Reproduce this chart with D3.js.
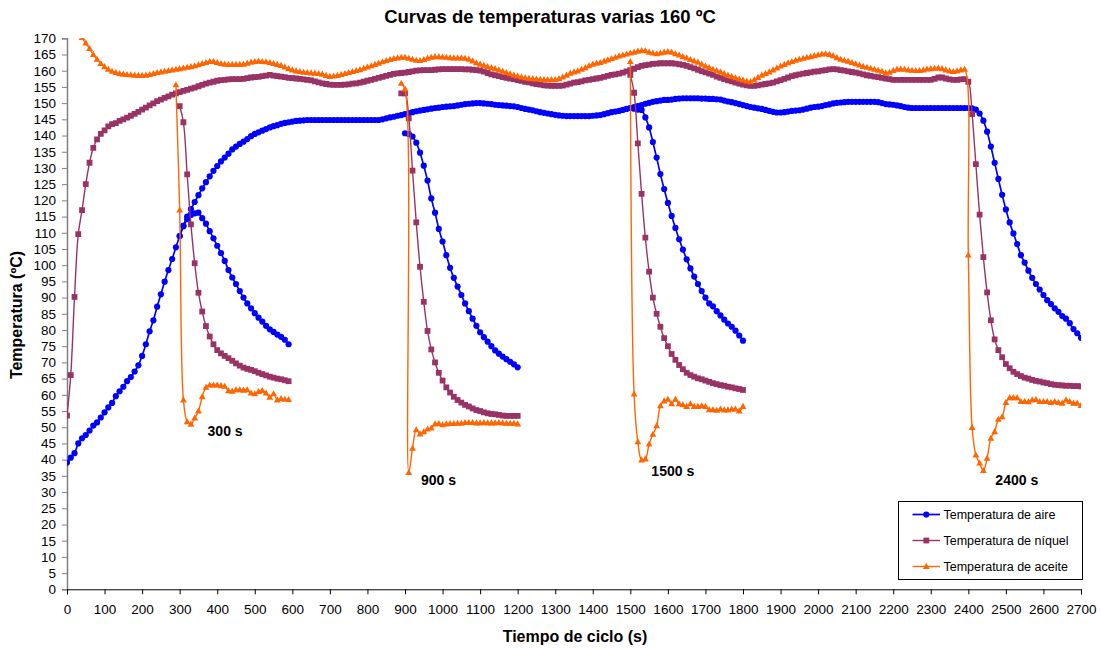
<!DOCTYPE html>
<html><head><meta charset="utf-8">
<script src="https://cdn.jsdelivr.net/npm/d3@7"></script>
<style>body{margin:0;background:#fff}svg{display:block;font-family:"Liberation Sans",Arial,sans-serif}</style>
</head><body><svg id="c" width="1101" height="648"></svg>
<script>
// ---- DATA (10 s sampling) ----
const STEP = 10;
const xTicks = d3.range(0, 2701, 100);
const yTicks = d3.range(0, 171, 5);
const seriesNames = ["Temperatura de aire", "Temperatura de níquel", "Temperatura de aceite"];
const pointLabels = ["300 s", "900 s", "1500 s", "2400 s"];

// air, long run 0..2700 s
const airMain = [39.1,40.6,42,45,46.6,47.6,49,50.5,51.5,53,54.6,56.1,57.5,59.6,61.1,62.5,64.2,65.5,67.2,69.1,
72,75.6,79.6,83,87.2,91,94.9,98.5,101.9,105.5,109,112.2,115,117.3,119.5,121.6,123.7,125.6,127.4,129.1,
130.6,132,133.2,134.4,135.7,136.6,137.4,138.1,138.9,139.8,140.5,141,141.5,142,142.5,142.9,143.2,143.6,143.9,144.1,
144.3,144.5,144.6,144.7,144.8,144.8,144.8,144.8,144.8,144.8,144.8,144.8,144.8,144.8,144.8,144.8,144.8,144.8,144.8,144.8,
144.8,144.8,144.8,144.8,145,145.3,145.6,145.8,146.1,146.3,146.6,146.9,147.2,147.5,147.7,147.9,148.1,148.3,148.5,148.6,
148.8,148.9,149,149.1,149.3,149.5,149.7,149.8,149.9,150,150,149.9,149.8,149.7,149.5,149.4,149.3,149.2,149.1,149,
148.8,148.5,148.2,148,147.8,147.5,147.2,147,146.8,146.6,146.4,146.2,146.1,146,146,146,146,146,146,146,
146.1,146.2,146.3,146.6,146.9,147.2,147.4,147.6,147.9,148.2,148.5,148.8,149.1,149.4,149.8,150.1,150.4,150.6,150.8,151,
151,151.1,151.3,151.4,151.5,151.5,151.5,151.5,151.5,151.4,151.4,151.3,151.3,151.2,151.1,150.8,150.5,150.3,150,149.7,
149.4,149.1,148.8,148.6,148.4,148.2,147.9,147.6,147.3,147.1,147.1,147.2,147.4,147.6,147.7,147.8,148,148.3,148.6,148.8,
148.9,149.1,149.4,149.6,149.9,150.1,150.2,150.3,150.4,150.4,150.4,150.4,150.4,150.4,150.4,150.4,150.3,150,149.7,149.6,
149.5,149.3,149.1,148.8,148.6,148.5,148.5,148.5,148.5,148.5,148.5,148.5,148.5,148.5,148.5,148.5,148.5,148.5,148.5,148.5,
148.5,148.4,148,146.8,144.6,141.2,136.6,131.6,126.6,121.7,117.2,113.2,109.8,106.5,103.1,100.8,98.3,96.1,94.2,92.5,
90.8,89.2,88,86.7,85.6,84.3,83.5,82.1,80.3,79,77.6];
const air300 = [109,112,114.2,115.5,116,116.2,114.5,112.8,110.5,108.3,106,103.7,101.3,98.5,96.2,94.2,92,90,88.2,86.7,
85.2,83.8,82.6,81.3,80.2,79.4,78.6,77.9,77,75.6];
const air900 = [140.7,140.5,139.7,137.8,134.7,130.7,126.1,120.6,116.2,111.2,107.3,103.1,99.2,96.1,93.4,90.8,88.2,85.8,83.5,81.3,
79.3,77.8,76.4,75,73.7,72.7,71.8,71,70.2,69.4,68.5];
const air1500 = [148.5,148.3,148,147.9,145.6,142.5,138,133.2,128.1,123.5,119.2,115.2,111.5,108,104.8,101.8,99,96.5,94.2,92,
90,88.2,87.3,85.8,84.5,83.2,82,81,79.8,78.3,76.7];

// nickel
const niMain = [53.6,66.1,90.2,109.6,117,125,131.6,136.2,138.8,140.5,141.6,142.8,143.5,143.8,144.5,145,145.5,146.1,146.7,147.3,
148,148.6,149.3,149.9,150.6,151.1,151.6,152.1,152.6,153,153.4,153.8,154.1,154.5,154.8,155.2,155.6,156,156.3,156.6,
156.9,157.1,157.2,157.3,157.4,157.4,157.4,157.5,157.7,157.9,158,158.1,158.3,158.5,158.7,158.5,158.3,158.2,158,157.8,
157.7,157.6,157.5,157.3,157.2,157,156.7,156.4,156.1,155.9,155.7,155.6,155.6,155.6,155.7,155.8,156,156.1,156.3,156.6,
156.9,157.2,157.5,157.8,158.1,158.4,158.7,159,159.2,159.3,159.4,159.6,159.8,160,160.1,160.2,160.2,160.2,160.3,160.4,
160.5,160.5,160.5,160.5,160.5,160.5,160.4,160.4,160.3,160.2,160,159.7,159.3,158.9,158.6,158.3,158,157.8,157.6,157.4,
157.1,156.9,156.6,156.4,156.1,155.9,155.7,155.5,155.4,155.3,155.3,155.3,155.4,155.7,156,156.3,156.5,156.7,157,157.2,
157.4,157.6,157.8,158.1,158.4,158.7,158.9,159.1,159.4,159.8,160.2,160.6,161.1,161.5,161.7,161.9,162.1,162.2,162.3,162.3,
162.3,162.3,162.2,162,161.8,161.5,161.1,160.7,160.3,159.9,159.5,159.1,158.7,158.2,157.8,157.4,157,156.7,156.3,156,
155.7,155.5,155.3,155.3,155.5,155.7,155.9,156.1,156.3,156.7,157.1,157.5,157.9,158.3,158.6,158.9,159.1,159.3,159.5,159.7,
159.8,160,160.2,160.4,160.5,160.4,160.2,160,159.8,159.6,159.4,159.2,158.9,158.6,158.4,158.2,158,157.8,157.6,157.4,
157.2,157.2,157.2,157.2,157.2,157.2,157.2,157.2,157.2,157.2,157.2,157.5,157.9,157.9,157.6,157.3,157.2,157.2,157.3,157.4,
156.6,146.6,131.2,115.6,102.5,91.6,83,77.1,73.8,71.6,69.5,68.2,67.1,66.4,65.8,65.3,65,64.6,64.3,64.1,
63.8,63.6,63.3,63.1,63,62.9,62.8,62.8,62.7,62.7,62.6];
const ni300 = [149.1,144.1,128,112.6,100.6,91.5,85.7,81.2,78,75.6,73.8,72.8,72,71.3,70.5,69.7,69,68.4,68,67.7,
67.3,66.8,66.4,66,65.6,65.3,65,64.8,64.5,64.2];
const ni900 = [153,153,145.3,129.2,113.2,99.5,88.7,79.7,74,70,66.8,64.4,62.3,60.7,59.4,58.4,57.6,56.9,56.4,55.8,
55.3,55,54.6,54.3,54.1,54,53.8,53.6,53.5,53.5,53.5,53.5];
const ni1500 = [158.7,153.2,137.6,122,108.5,98,90,85,81,77.5,75,72.6,70.8,69.2,67.9,66.8,66.1,65.6,65.1,64.8,
64.4,64,63.6,63.3,63,62.8,62.5,62.3,62,61.8,61.5];

// oil
const oilMain = [178,176,174,172,170.2,168.5,166.8,165,163.5,162.2,161.2,160.4,159.8,159.4,159.1,158.9,158.8,158.7,158.6,158.5,
158.5,158.6,158.8,159.1,159.4,159.6,159.8,160,160.2,160.4,160.6,160.8,161,161.2,161.5,161.8,162.2,162.5,162.8,162.8,
162.5,162.2,162,161.9,161.9,161.9,161.9,162,162.3,162.6,162.8,162.9,162.8,162.7,162.5,162.2,161.9,161.6,161.1,160.6,
160.2,159.9,159.7,159.5,159.4,159.3,159.2,159.1,158.9,158.5,158.2,158.3,158.5,158.8,159.1,159.4,159.7,160,160.3,160.7,
161.1,161.5,161.9,162.3,162.7,163.1,163.4,163.7,163.9,164.1,164.1,163.8,163.5,163.2,163.1,163.4,163.8,164.1,164.3,164.3,
164.2,164.1,164,163.9,163.9,163.9,163.8,163.5,163,162.4,162,161.6,161.2,160.9,160.6,160.2,159.8,159.4,159,158.6,
158.3,158,157.8,157.6,157.5,157.4,157.3,157.2,157.2,157.2,157.2,157.5,158,158.6,159.2,159.6,159.9,160.4,160.9,161.5,
162,162.3,162.5,162.9,163.3,163.7,164.1,164.5,164.8,165.1,165.4,165.7,166,166.2,166.1,165.7,165.4,165.2,165.4,165.7,
165.9,165.7,165.2,164.8,164.3,163.9,163.4,163,162.6,162,161.4,160.9,160.4,160,159.6,159.1,158.6,158.2,157.8,157.4,
157.1,156.8,156.6,157.2,157.9,158.6,159.1,159.6,160.2,160.8,161.4,161.9,162.4,162.8,163.2,163.5,163.8,164.1,164.3,164.6,
164.9,165.1,165.2,165,164.6,164,163.5,163.2,162.9,162.5,162.1,161.7,161.3,161,160.7,160.4,160.1,159.8,159.3,159.5,
160,160.4,160.5,160.4,160.2,160.1,160,160,160.2,160.5,160.6,160.7,160.8,160.6,160.2,159.9,159.7,159.9,160.2,160.4,
103.1,49.9,41.4,38.9,36.6,40.4,46.6,48.6,52.4,53.2,57.6,59.1,59.1,59.1,57.9,57.9,57.8,58.4,58.5,57.9,
57.9,57.9,57.6,57.9,57.6,57.4,58.4,57.9,57.4,57.4,56.7];
const oil300 = [155.6,117,58.4,51.7,50.9,52.8,55,59.4,62.3,63,63,63,62.8,62.6,61.2,61.1,61.5,61.5,61.4,61.5,
60.5,60.3,61,61.3,60.5,59.2,60.3,58.4,58.8,58.6,58.5];
const oil900 = [156.1,154.3,36,43.5,49.2,47.9,48.6,49.4,49.7,51,51.1,50.7,51,51.1,51.1,51.2,51.2,51.4,51.4,51.4,
51.3,51.3,51.4,51.3,51.3,51.3,51.4,51.3,51.2,51.2,51.2,51];
const oil1500 = [162.8,60.2,45.5,39.9,40.2,44.8,47.8,50.4,56.6,58.1,58.6,57.2,58.6,57.2,56.9,56.4,57.2,56.4,56.4,56.6,
56.4,55.4,55.4,55.2,55.6,55.3,55.3,55.6,55.6,55,56.4];

// segment start times (s)
const airStarts = [0, 300, 900, 1500];
const niStarts = [0, 300, 890, 1500];
const oilStarts = [0, 290, 890, 1500];
// label anchor (time s, temperature) for each test
const labelTimes = [421, 989, 1613, 2529];
const labelTemps = [47.3, 32.2, 35, 32.2];

// ---- CHART ----
const svg = d3.select("#c");
const x = d3.scaleLinear().domain([0, 2700]).range([67, 1081]);
const y = d3.scaleLinear().domain([0, 170]).range([589.3, 38.3]);

svg.append("defs").append("clipPath").attr("id", "plot")
  .append("rect").attr("x", 67).attr("y", 38.3).attr("width", 1014).attr("height", 551);

const series = [
  {name: seriesNames[0], color: "#0000FF", marker: "circle", segs: [airMain, air300, air900, air1500].map((v, i) => ({start: airStarts[i], values: v}))},
  {name: seriesNames[1], color: "#993366", marker: "square", segs: [niMain, ni300, ni900, ni1500].map((v, i) => ({start: niStarts[i], values: v}))},
  {name: seriesNames[2], color: "#FF6600", marker: "triangle", segs: [oilMain, oil300, oil900, oil1500].map((v, i) => ({start: oilStarts[i], values: v}))}
];

function markerPath(type) {
  if (type === "circle") return "M3.1,0A3.1,3.1 0 1,1 -3.1,0A3.1,3.1 0 1,1 3.1,0Z";
  if (type === "square") return "M-2.9,-2.9H2.9V2.9H-2.9Z";
  return "M0,-3.7L3.4,2.4H-3.4Z";
}

// axes
const yAxis = svg.append("g").attr("transform", "translate(67,0)")
  .call(d3.axisLeft(y).tickValues(yTicks).tickSize(5).tickPadding(6).tickFormat(d3.format("d")));
yAxis.select(".domain").attr("stroke", "#808080").attr("stroke-width", 1.5);
yAxis.selectAll(".tick line").attr("stroke", "#808080");
yAxis.selectAll("text").attr("font-size", 13.5).attr("fill", "#000").attr("font-family", '"Liberation Sans",Arial,sans-serif');

const xAxis = svg.append("g").attr("transform", "translate(0,589.3)")
  .call(d3.axisBottom(x).tickValues(xTicks).tickSize(5).tickPadding(10).tickFormat(d3.format("d")));
xAxis.select(".domain").attr("stroke", "#000").attr("stroke-width", 1);
xAxis.selectAll(".tick line").attr("stroke", "#000");
xAxis.selectAll("text").attr("font-size", 13.5).attr("fill", "#000").attr("font-family", '"Liberation Sans",Arial,sans-serif');

// series
const plot = svg.append("g").attr("clip-path", "url(#plot)");
const line = d3.line().x(d => x(d[0])).y(d => y(d[1])).curve(d3.curveCatmullRom.alpha(0.5));
series.forEach(s => {
  const g = plot.append("g");
  s.segs.forEach(seg => {
    const pts = seg.values.map((v, i) => [seg.start + i * STEP, v]);
    g.append("path").datum(pts).attr("d", line).attr("fill", "none")
      .attr("stroke", s.color).attr("stroke-width", s.marker === "circle" ? 1.7 : 1.4);
  });
  s.segs.forEach(seg => {
    const pts = seg.values.map((v, i) => [seg.start + i * STEP, v]);
    g.selectAll(null).data(pts).enter().append("path")
      .attr("d", markerPath(s.marker))
      .attr("transform", d => `translate(${x(d[0])},${y(d[1])})`)
      .attr("fill", s.color);
  });
});

// point labels
pointLabels.forEach((t, i) => {
  svg.append("text").attr("x", x(labelTimes[i])).attr("y", y(labelTemps[i]))
    .attr("text-anchor", "middle").attr("font-size", 14).attr("font-weight", "bold").text(t);
});

// titles
svg.append("text").attr("x", 550).attr("y", 23).attr("text-anchor", "middle")
  .attr("font-size", 18.5).attr("font-weight", "bold").text("Curvas de temperaturas varias 160 ºC");
svg.append("text").attr("x", 575).attr("y", 642).attr("text-anchor", "middle")
  .attr("font-size", 16).attr("font-weight", "bold").text("Tiempo de ciclo (s)");
svg.append("text").attr("transform", "translate(22,315) rotate(-90)").attr("text-anchor", "middle")
  .attr("font-size", 16).attr("font-weight", "bold").text("Temperatura (ºC)");

// legend
const lg = svg.append("g");
lg.append("rect").attr("x", 898.5).attr("y", 501.5).attr("width", 184).attr("height", 78)
  .attr("fill", "#fff").attr("stroke", "#000").attr("stroke-width", 1);
series.forEach((s, i) => {
  const yy = 514.5 + i * 26;
  lg.append("line").attr("x1", 912.5).attr("x2", 940).attr("y1", yy).attr("y2", yy)
    .attr("stroke", s.color).attr("stroke-width", s.marker === "circle" ? 1.7 : 1.4);
  lg.append("path").attr("d", markerPath(s.marker)).attr("transform", `translate(926.3,${yy})`).attr("fill", s.color);
  lg.append("text").attr("x", 943.5).attr("y", yy + 4.5).attr("font-size", 12.5).text(s.name);
});
</script></body></html>
